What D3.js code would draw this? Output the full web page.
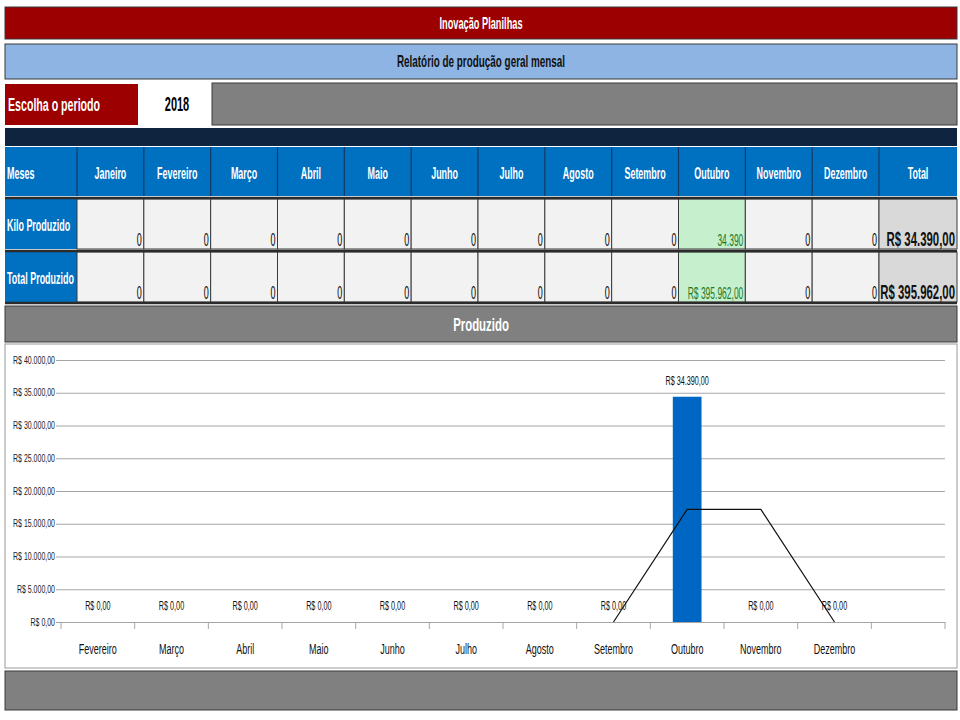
<!DOCTYPE html>
<html>
<head>
<meta charset="utf-8">
<script src="https://cdnjs.cloudflare.com/ajax/libs/d3/7.8.5/d3.min.js"></script>
<style>
  body { margin: 0; background: #fff; }
  svg { display: block; }
  text { font-family: "Liberation Sans", Arial, sans-serif; }
</style>
</head>
<body>
<svg id="sheet" width="960" height="720"></svg>
<script>
// table data
var tableMonths = ["Janeiro", "Fevereiro", "Março", "Abril", "Maio", "Junho", "Julho",
  "Agosto", "Setembro", "Outubro", "Novembro", "Dezembro"];
var kiloValues  = [0, 0, 0, 0, 0, 0, 0, 0, 0, 34390, 0, 0];
var totalValues = [0, 0, 0, 0, 0, 0, 0, 0, 0, 395962, 0, 0];
var kiloTotal = 34390;
var moneyTotal = 395962;
var periodYear = "2018";

// chart data
var chartCategories = ["Fevereiro", "Março", "Abril", "Maio", "Junho", "Julho", "Agosto",
  "Setembro", "Outubro", "Novembro", "Dezembro", ""];
var chartValues = [0, 0, 0, 0, 0, 0, 0, 0, 34390, 0, 0, null];
var trendValues = [null, null, null, null, null, null, null, 0, 17195, 17195, 0, null];
var yTickValues = [0, 5000, 10000, 15000, 20000, 25000, 30000, 35000, 40000];

var br = d3.formatLocale({decimal: ",", thousands: ".", grouping: [3], currency: ["R$ ", ""]});
var money = br.format("$,.2f");
var intFmt = br.format(",d");

var svg = d3.select("#sheet");
var L = 5, R = 957;

// narrow the glyphs horizontally (no narrow font available offline)
function squish(sel, k) {
  sel.each(function() {
    var t = d3.select(this);
    var x0 = +(t.attr("x") || 0);
    t.attr("x", x0 / k).attr("transform", "scale(" + k + ",1)");
  });
  return sel;
}

function band(y, h, fill, txt, opts) {
  opts = opts || {};
  svg.append("rect").attr("x", L).attr("y", y).attr("width", R - L).attr("height", h)
    .attr("fill", fill).attr("stroke", opts.stroke || "#3a3a3a").attr("stroke-width", 1);
  if (txt) {
    svg.append("text").attr("x", (L + R) / 2).attr("y", y + h / 2).attr("dy", ".35em")
      .attr("text-anchor", "middle").attr("font-weight", "bold")
      .attr("font-size", opts.size || 14).attr("fill", opts.color || "#fff").text(txt)
      .call(squish, opts.k || 0.6);
  }
}

// header bars
band(7, 32, "#9c0000", "Inovação Planilhas", {size: 16.5, k: 0.56});
band(44, 35, "#8db4e2", "Relatório de produção geral mensal", {size: 16.5, color: "#111", k: 0.6});

// period row
svg.append("rect").attr("x", 212).attr("y", 83).attr("width", R - 212).attr("height", 42)
  .attr("fill", "#808080").attr("stroke", "#3a3a3a");
svg.append("rect").attr("x", L).attr("y", 84).attr("width", 133).attr("height", 41)
  .attr("fill", "#9c0000");
svg.append("text").attr("x", 8).attr("y", 104).attr("dy", ".35em")
  .attr("font-size", 19).attr("font-weight", "bold").attr("fill", "#fff").text("Escolha o periodo")
  .call(squish, 0.56);
svg.append("rect").attr("x", 144).attr("y", 82).attr("width", 67).attr("height", 42)
  .attr("fill", "#fff");
svg.append("text").attr("x", 177).attr("y", 104).attr("dy", ".35em").attr("text-anchor", "middle")
  .attr("font-size", 20).attr("font-weight", "bold").attr("fill", "#000").text(periodYear)
  .call(squish, 0.55);

// navy strip
svg.append("rect").attr("x", L).attr("y", 128).attr("width", R - L).attr("height", 18)
  .attr("fill", "#0f243e");

// table
var col = d3.scaleBand().domain(tableMonths).range([77, 879]);
var rows = [
  {label: "Kilo Produzido", y: 199, values: kiloValues, fmt: intFmt, total: money(kiloTotal)},
  {label: "Total Produzido", y: 252, values: totalValues, fmt: money, total: money(moneyTotal)}
];
var rowH = 50;

// header row
svg.append("rect").attr("x", L).attr("y", 147).attr("width", R - L).attr("height", 49)
  .attr("fill", "#0070c0");
svg.append("text").attr("x", 7).attr("y", 173).attr("dy", ".35em")
  .attr("font-size", 16).attr("font-weight", "bold").attr("fill", "#fff").text("Meses")
  .call(squish, 0.56);
svg.selectAll(".hdr").data(tableMonths).enter().append("text").attr("class", "hdr")
  .attr("x", function(d) { return col(d) + col.bandwidth() / 2; })
  .attr("y", 173).attr("dy", ".35em").attr("text-anchor", "middle")
  .attr("font-size", 16).attr("font-weight", "bold").attr("fill", "#fff")
  .text(function(d) { return d; })
  .call(squish, 0.56);
svg.append("text").attr("x", 918).attr("y", 173).attr("dy", ".35em").attr("text-anchor", "middle")
  .attr("font-size", 16).attr("font-weight", "bold").attr("fill", "#fff").text("Total")
  .call(squish, 0.56);
svg.selectAll(".hsep").data(tableMonths.concat(["Total"])).enter().append("line")
  .attr("x1", function(d) { return d === "Total" ? 879 : col(d); })
  .attr("x2", function(d) { return d === "Total" ? 879 : col(d); })
  .attr("y1", 147).attr("y2", 196).attr("stroke", "#163a63").attr("stroke-width", 1.2);

rows.forEach(function(r) {
  var g = svg.append("g");
  g.append("rect").attr("x", L).attr("y", r.y).attr("width", 72).attr("height", rowH)
    .attr("fill", "#0070c0");
  g.append("text").attr("x", 7).attr("y", r.y + 26).attr("dy", ".35em")
    .attr("font-size", 16).attr("font-weight", "bold").attr("fill", "#fff").text(r.label)
    .call(squish, 0.56);
  g.selectAll("rect.cell").data(r.values).enter().append("rect").attr("class", "cell")
    .attr("x", function(d, i) { return col(tableMonths[i]); })
    .attr("y", r.y).attr("width", col.bandwidth()).attr("height", rowH)
    .attr("fill", function(d) { return d > 0 ? "#c6efce" : "#f2f2f2"; })
    .attr("stroke", "#3a3a3a").attr("stroke-width", 1);
  g.selectAll("text.val").data(r.values).enter().append("text").attr("class", "val")
    .attr("x", function(d, i) { return col(tableMonths[i]) + col.bandwidth() - 2; })
    .attr("y", r.y + 47).attr("text-anchor", "end")
    .attr("font-size", function(d) { return d > 0 ? 16 : 18; })
    .attr("fill", function(d) { return d > 0 ? "#1f7a1f" : "#000"; })
    .text(function(d) { return r.fmt(d).replace(/^R\$ 0,00$/, "0"); })
    .each(function(d) { d3.select(this).call(squish, d > 0 ? 0.53 : 0.5); });
  g.append("rect").attr("x", 879).attr("y", r.y).attr("width", R - 879).attr("height", rowH)
    .attr("fill", "#d9d9d9").attr("stroke", "#3a3a3a");
  g.append("text").attr("x", R - 2).attr("y", r.y + 47).attr("text-anchor", "end")
    .attr("font-size", 20).attr("font-weight", "bold").attr("fill", "#111").text(r.total)
    .call(squish, 0.57);
});
[198, 251, 303].forEach(function(y) {
  svg.append("line").attr("x1", L).attr("x2", R).attr("y1", y).attr("y2", y)
    .attr("stroke", "#2b2b2b").attr("stroke-width", 2.5);
});

// Produzido strip
band(306, 36, "#808080", "Produzido", {size: 19, k: 0.6});

// chart area
svg.append("rect").attr("x", L).attr("y", 344).attr("width", R - L).attr("height", 324)
  .attr("fill", "#fff").attr("stroke", "#9a9a9a");

var x = d3.scaleBand().domain(d3.range(chartCategories.length)).range([61, 945]).paddingInner(0);
var y = d3.scaleLinear().domain([0, 40000]).range([622, 360]);

var chart = svg.append("g");

// gridlines + y axis
var yAxis = d3.axisLeft(y).tickValues(yTickValues).tickSize(-(945 - 61)).tickPadding(6)
  .tickFormat(function(d) { return money(d); });
var ya = chart.append("g").attr("transform", "translate(61,0)").call(yAxis);
ya.select(".domain").remove();
ya.selectAll(".tick line").attr("stroke", "#a6a6a6").attr("stroke-width", 1).attr("x1", -5);
ya.selectAll(".tick text").attr("font-size", 10).attr("fill", "#222").call(squish, 0.7);

// x axis
var xAxis = d3.axisBottom(x).tickSize(0).tickPadding(27)
  .tickFormat(function(i) { return chartCategories[i]; });
var xa = chart.append("g").attr("transform", "translate(0,622)").call(xAxis);
xa.select(".domain").attr("stroke", "#a6a6a6");
xa.selectAll(".tick text").attr("font-size", 15.5).attr("fill", "#111").attr("dy", ".35em")
  .call(squish, 0.58);
xa.selectAll(".bt").data(d3.range(chartCategories.length + 1)).enter().append("line")
  .attr("class", "bt")
  .attr("x1", function(i) { return 61 + i * x.bandwidth(); })
  .attr("x2", function(i) { return 61 + i * x.bandwidth(); })
  .attr("y1", 0).attr("y2", 7).attr("stroke", "#a6a6a6");

// bars
var barW = x.bandwidth() * 0.39;
var barData = chartValues.map(function(v, i) { return {i: i, v: v}; })
  .filter(function(d) { return d.v !== null; });
chart.selectAll(".bar").data(barData).enter().append("rect").attr("class", "bar")
  .attr("x", function(d) { return x(d.i) + (x.bandwidth() - barW) / 2; })
  .attr("width", barW)
  .attr("y", function(d) { return y(d.v); })
  .attr("height", function(d) { return y(0) - y(d.v); })
  .attr("fill", "#0066c4");
chart.selectAll(".lbl").data(barData).enter().append("text").attr("class", "lbl")
  .attr("x", function(d) { return x(d.i) + x.bandwidth() / 2; })
  .attr("y", function(d) { return y(d.v) - 16; })
  .attr("dy", ".35em")
  .attr("text-anchor", "middle").attr("font-size", 12.5).attr("fill", "#111")
  .text(function(d) { return money(d.v); })
  .call(squish, 0.58);

// moving average trend line
var trend = d3.line()
  .defined(function(d) { return d !== null; })
  .x(function(d, i) { return x(i) + x.bandwidth() / 2; })
  .y(function(d) { return y(d); });
chart.append("path").datum(trendValues).attr("d", trend)
  .attr("fill", "none").attr("stroke", "#111").attr("stroke-width", 1.2);

// bottom strip
band(671, 39, "#808080", null);
</script>
</body>
</html>
